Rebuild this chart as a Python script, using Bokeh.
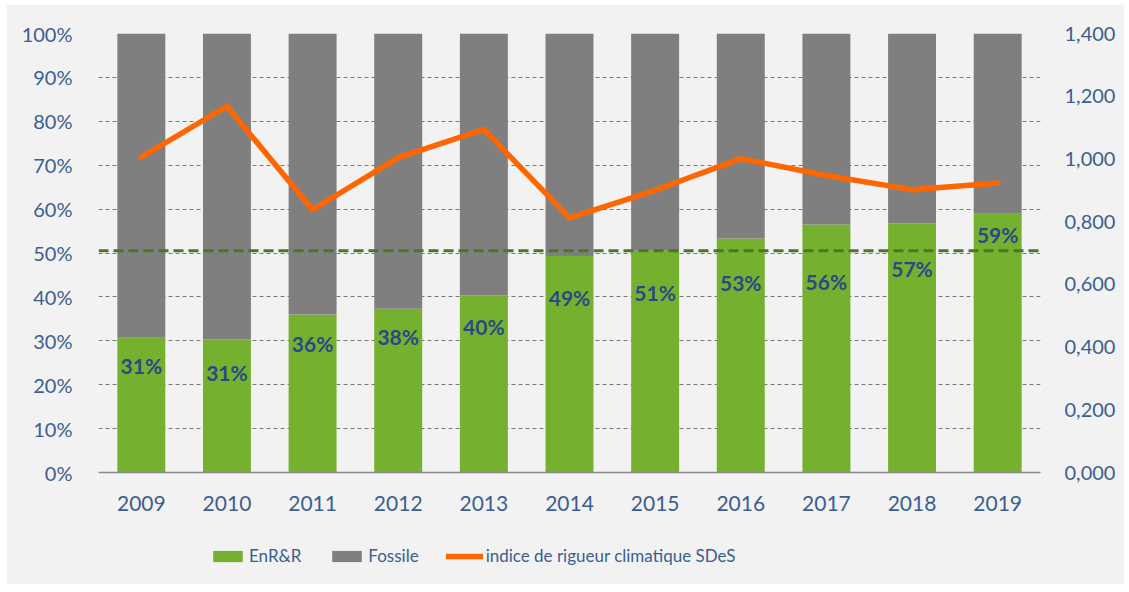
from bokeh.plotting import figure
from bokeh.models import (Range1d, LinearAxis, FixedTicker, NumeralTickFormatter,
                          CustomJSTickFormatter, Legend, LegendItem, Span, ColumnDataSource)
from bokeh.embed import file_html
from bokeh.resources import INLINE
from bokeh.core.properties import value

years = [str(y) for y in range(2009, 2020)]
enrr = [0.307, 0.303, 0.360, 0.373, 0.404, 0.493, 0.505, 0.533, 0.565, 0.568, 0.591]
fossile = [1 - v for v in enrr]
indice = [1.006, 1.168, 0.838, 1.004, 1.094, 0.812, 0.900, 1.001, 0.947, 0.902, 0.923]
labels = ["31%", "31%", "36%", "38%", "40%", "49%", "51%", "53%", "56%", "57%", "59%"]
label_pos = [0.243, 0.228, 0.293, 0.310, 0.332, 0.399, 0.411, 0.433, 0.436, 0.464, 0.542]
target = 0.505
pct_ticks = [i / 10 for i in range(11)]
idx_ticks = [i / 5 for i in range(8)]
idx_max = 1.4

GREEN = "#76b02f"
GRAY = "#7f7f7f"
ORANGE = "#ff6600"
TXT = "#3b5e91"
LBL = "#284a87"
BG = "#f2f2f2"
FONT = "Lato"

# plot area: 0..1 occupies 439 px; a band of 112 px is kept below 0 for the
# year labels and the legend
PLOT_H = 439
BELOW = 112
low = -BELOW / PLOT_H

src = ColumnDataSource(dict(year=years, enrr=enrr, fossile=fossile, indice=indice,
                            labels=labels, label_pos=label_pos, zero=[0] * len(years)))

p = figure(x_range=years, y_range=Range1d(low, 1), frame_width=942, frame_height=PLOT_H + BELOW,
           min_border_left=92, min_border_right=84, min_border_top=29, min_border_bottom=0,
           output_backend="svg", toolbar_location=None,
           background_fill_color=BG, border_fill_color=BG, outline_line_color=None)
p.margin = (4, 5, 4, 6)

p.extra_y_ranges = {"idx": Range1d(low * idx_max, idx_max)}

bars = p.vbar_stack(["enrr", "fossile"], x="year", width=0.56, color=[GREEN, GRAY],
                    line_color=None, source=src)

# grid
p.xgrid.grid_line_color = None
p.ygrid.ticker = FixedTicker(ticks=pct_ticks)
p.ygrid.grid_line_color = "#7a7a7a"
p.ygrid.grid_line_dash = "4 3"
p.ygrid.grid_line_width = 1

# left axis
p.yaxis.ticker = FixedTicker(ticks=pct_ticks)
p.yaxis.formatter = NumeralTickFormatter(format="0%")
p.yaxis.axis_line_color = None
p.yaxis.major_tick_line_color = None
p.yaxis.minor_tick_line_color = None
p.yaxis.major_label_standoff = 20
p.yaxis.major_label_text_font = FONT
p.yaxis.major_label_text_font_size = "20px"
p.yaxis.major_label_text_color = TXT

# category axis: baseline + year labels
p.xaxis.visible = False
p.add_layout(Span(location=0, dimension="width", line_color="#8a8a8a", line_width=1.5))
p.text(x="year", y="zero", text="year", source=src, y_offset=31, text_align="center",
       text_baseline="middle", text_font=value(FONT), text_font_size="21px", text_color=TXT)

# right axis
ax = LinearAxis(y_range_name="idx", ticker=FixedTicker(ticks=idx_ticks),
                formatter=CustomJSTickFormatter(code="return tick.toFixed(3).replace('.', ',');"))
ax.axis_line_color = None
ax.major_tick_line_color = None
ax.minor_tick_line_color = None
ax.major_label_standoff = 18
ax.major_label_text_font = FONT
ax.major_label_text_font_size = "20px"
ax.major_label_text_color = TXT
p.add_layout(ax, "right")

# target line
p.add_layout(Span(location=target, dimension="width", line_color="#4d7529",
                  line_width=3, line_dash="10 5"))

# bar labels
p.text(x="year", y="label_pos", text="labels", source=src, text_align="center",
       text_baseline="middle", text_font=value(FONT), text_font_style="bold",
       text_font_size="21px", text_color=LBL)

# climate index line
ln = p.line(x="year", y="indice", y_range_name="idx", source=src, line_color=ORANGE,
            line_width=5.5, line_cap="round", line_join="round")

legend = Legend(items=[LegendItem(label="EnR&R", renderers=[bars[0]]),
                       LegendItem(label="Fossile", renderers=[bars[1]]),
                       LegendItem(label="indice de rigueur climatique SDeS", renderers=[ln])],
                orientation="horizontal", location=(111, 18),
                background_fill_alpha=0, border_line_color=None,
                glyph_width=37, glyph_height=14, label_standoff=3, spacing=27,
                padding=0, margin=0, label_height=20,
                label_text_font=FONT, label_text_font_size="17px", label_text_color=TXT)
p.add_layout(legend, "center")

open("out.html", "w").write(file_html(p, INLINE))
